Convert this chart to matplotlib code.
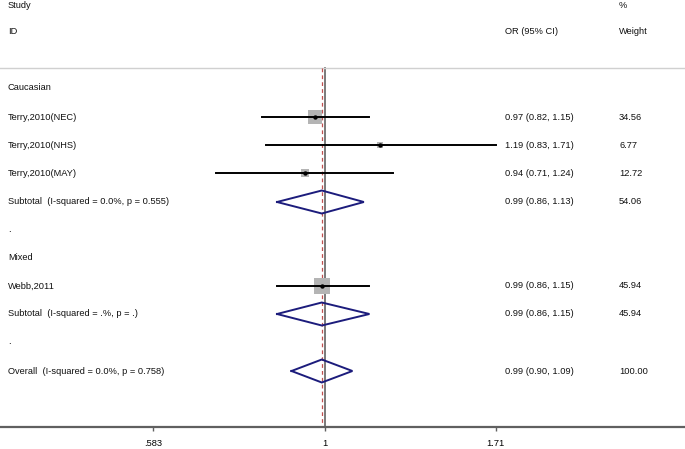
import matplotlib
matplotlib.use("Agg")
import matplotlib.pyplot as plt
import numpy as np

plt.rcParams['font.family'] = ['Liberation Sans', 'DejaVu Sans']

# ---- data ----
studies = ["Terry,2010(NEC)", "Terry,2010(NHS)", "Terry,2010(MAY)", "Webb,2011"]
study_or = [0.97, 1.19, 0.94, 0.99]
study_lo = [0.82, 0.83, 0.71, 0.86]
study_hi = [1.15, 1.71, 1.24, 1.15]
study_w = [34.56, 6.77, 12.72, 45.94]

pooled_labels = ["Subtotal  (I-squared = 0.0%, p = 0.555)",
                 "Subtotal  (I-squared = .%, p = .)",
                 "Overall  (I-squared = 0.0%, p = 0.758)"]
pooled_or = [0.99, 0.99, 0.99]
pooled_lo = [0.86, 0.86, 0.90]
pooled_hi = [1.13, 1.15, 1.09]
pooled_w = [54.06, 45.94, 100.00]

groups = ["Caucasian", "Mixed"]
tick_vals = [0.583, 1, 1.71]
tick_labels = [".583", "1", "1.71"]
overall_or = 0.99

# row layout (pixel rows)
study_rows = [117, 145, 173, 286]
pooled_rows = [202, 314, 371]
group_rows = [88, 257]
dot_rows = [232, 344]

W, H = 685, 449
fig = plt.figure(figsize=(W / 100, H / 100), dpi=100)
axis_y = 427
ax = fig.add_axes([0, (H - axis_y) / H, 1, axis_y / H])
ax.set_xscale('log')
scale = 318.0
x0 = 325.0
ax.set_xlim(np.exp(-x0 / scale), np.exp((W - x0) / scale))
ax.set_ylim(axis_y, 0)

for s in ['top', 'right', 'left']:
    ax.spines[s].set_visible(False)
ax.spines['bottom'].set_color('#606060')
ax.spines['bottom'].set_linewidth(1.6)
ax.set_yticks([])
ax.set_xticks(tick_vals)
ax.set_xticklabels(tick_labels)
ax.minorticks_off()
ax.tick_params(axis='x', length=3, width=1, color='#606060', labelsize=6.7, pad=6)

fs = 6.7
# header separator
ax.axhline(68, color='#d0d0d0', lw=1)
# reference line at 1
ax.plot([1, 1], [68, axis_y], color='#707070', lw=1.3, zorder=1)
# overall dashed line
ax.plot([overall_or, overall_or], [68, axis_y], color='#c05050', lw=0.9,
        ls=(0, (3, 2.5)), zorder=2)

# studies
for o, lo, hi, w, y in zip(study_or, study_lo, study_hi, study_w, study_rows):
    ax.scatter([o], [y], marker='s', s=2.6 * w, color='#b4b4b4', zorder=3, linewidths=0)
    ax.plot([lo, hi], [y, y], color='black', lw=1.4, zorder=4)
    ax.scatter([o], [y], marker='o', s=10, color='black', zorder=5, linewidths=0)

# pooled diamonds
for o, lo, hi, y in zip(pooled_or, pooled_lo, pooled_hi, pooled_rows):
    ax.plot([lo, o, hi, o, lo], [y, y - 11.5, y, y + 11.5, y], color='#1c1c7c',
            lw=1.4, zorder=4, solid_joinstyle='miter')

lx = np.exp((8 - x0) / scale)
ox = np.exp((505 - x0) / scale)
wx = np.exp((619 - x0) / scale)

def put(xv, y, s):
    ax.text(xv, y, s, fontsize=fs, va='center', ha='left', clip_on=False, color='#111111')

put(lx, 5, "Study")
put(lx, 32, "ID")
put(wx, 5, "%")
put(ox, 32, "OR (95% CI)")
put(wx, 32, "Weight")

for g, y in zip(groups, group_rows):
    put(lx, y, g)
for y in dot_rows:
    put(lx, y - 2, ".")

for name, o, lo, hi, w, y in zip(studies, study_or, study_lo, study_hi, study_w, study_rows):
    put(lx, y, name)
    put(ox, y, f"{o:.2f} ({lo:.2f}, {hi:.2f})")
    put(wx, y, f"{w:.2f}")

for name, o, lo, hi, w, y in zip(pooled_labels, pooled_or, pooled_lo, pooled_hi, pooled_w, pooled_rows):
    put(lx, y, name)
    put(ox, y, f"{o:.2f} ({lo:.2f}, {hi:.2f})")
    put(wx, y, f"{w:.2f}")

fig.savefig("out.png", dpi=100, facecolor='white')
